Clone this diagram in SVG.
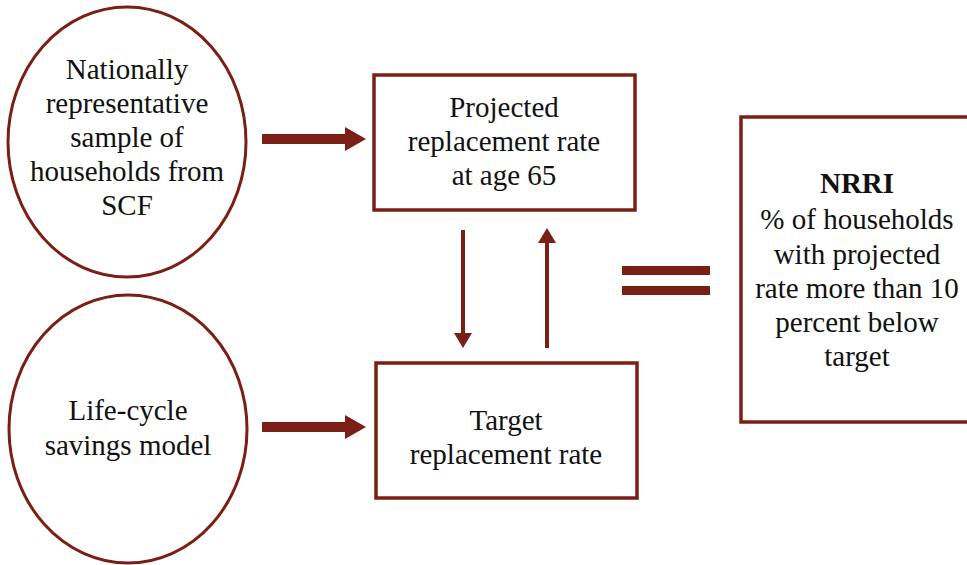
<svg xmlns="http://www.w3.org/2000/svg" width="967" height="565" viewBox="0 0 967 565" font-family="Liberation Serif, serif">
<style>
.shape{fill:#fff;stroke:#7a1f16;stroke-width:3.5}
.ell{fill:#fff;stroke:#7a1f16;stroke-width:3}
.t{font-family:"Liberation Serif",serif;font-size:29px;fill:#111;text-anchor:middle}
.b{font-weight:bold}
.c{fill:#7a1f16;stroke:none}
</style>
<rect width="967" height="565" fill="#fff"/>
<g id="sample">
<ellipse class="ell" cx="127" cy="142" rx="119" ry="135"/>
<text class="t" x="127" y="79">Nationally</text>
<text class="t" x="127" y="113">representative</text>
<text class="t" x="127" y="147">sample of</text>
<text class="t" x="127" y="181">households from</text>
<text class="t" x="127" y="215">SCF</text>
</g>
<g id="lifecycle">
<ellipse class="ell" cx="128" cy="429" rx="119" ry="134"/>
<text class="t" x="128" y="420">Life-cycle</text>
<text class="t" x="128" y="455">savings model</text>
</g>
<g id="projected">
<rect class="shape" x="374" y="75" width="261" height="135"/>
<text class="t" x="504" y="117">Projected</text>
<text class="t" x="504" y="151">replacement rate</text>
<text class="t" x="504" y="185">at age 65</text>
</g>
<g id="target">
<rect class="shape" x="376" y="363" width="261" height="135"/>
<text class="t" x="506" y="430">Target</text>
<text class="t" x="506" y="464">replacement rate</text>
</g>
<g id="nrri">
<rect class="shape" x="741" y="117" width="240" height="305"/>
<text class="t b" x="857" y="193">NRRI</text>
<text class="t" x="857" y="229">% of households</text>
<text class="t" x="857" y="264">with projected</text>
<text class="t" x="857" y="298">rate more than 10</text>
<text class="t" x="857" y="332">percent below</text>
<text class="t" x="857" y="366">target</text>
</g>
<g id="connectors">
<polygon class="c" points="262,134 345,134 345,127 366,139 345,151 345,144 262,144"/>
<polygon class="c" points="262,422 345,422 345,415 366,427 345,439 345,432 262,432"/>
<polygon class="c" points="461,230 465,230 465,333 472,333 463,348 454,333 461,333"/>
<polygon class="c" points="545,348 549,348 549,243 556,243 547,228 538,243 545,243"/>
<rect class="c" x="622" y="266" width="88" height="9"/>
<rect class="c" x="622" y="286" width="88" height="9"/>
</g>
</svg>
